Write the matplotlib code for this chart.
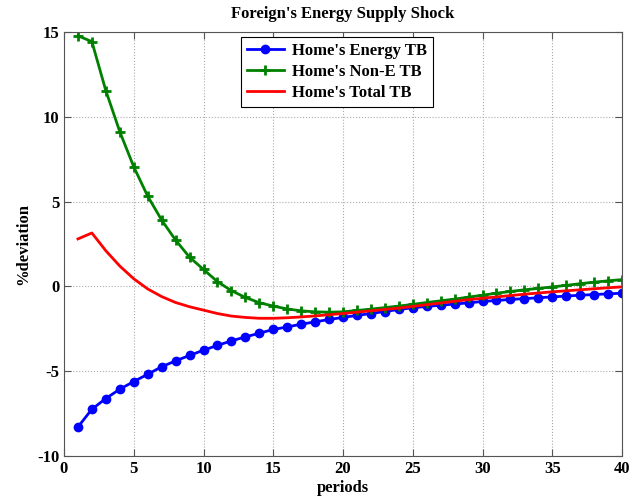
import numpy as np
import matplotlib
matplotlib.use("Agg")
import matplotlib.pyplot as plt

# impulse responses to a foreign energy supply shock, periods 1..40
periods = np.arange(1, 41)

energy_tb = [-8.29, -7.24, -6.61, -6.06, -5.61, -5.18, -4.74, -4.39, -4.07, -3.76,
             -3.48, -3.21, -2.98, -2.76, -2.54, -2.39, -2.23, -2.09, -1.95, -1.83,
             -1.71, -1.60, -1.48, -1.36, -1.26, -1.18, -1.11, -1.04, -0.97, -0.89,
             -0.83, -0.77, -0.72, -0.67, -0.62, -0.57, -0.52, -0.48, -0.44, -0.40]

non_e_tb = [14.78, 14.43, 11.54, 9.12, 7.05, 5.32, 3.91, 2.73, 1.72, 1.00,
            0.28, -0.25, -0.65, -0.96, -1.16, -1.33, -1.44, -1.50, -1.52, -1.50,
            -1.42, -1.34, -1.25, -1.16, -1.06, -0.95, -0.85, -0.75, -0.63, -0.52,
            -0.40, -0.30, -0.20, -0.12, -0.03, 0.06, 0.16, 0.25, 0.33, 0.40]

total_tb = [2.80, 3.15, 2.10, 1.20, 0.45, -0.15, -0.60, -0.95, -1.20, -1.40,
            -1.60, -1.75, -1.83, -1.88, -1.88, -1.85, -1.80, -1.74, -1.67, -1.60,
            -1.52, -1.44, -1.36, -1.28, -1.18, -1.08, -0.98, -0.88, -0.78, -0.70,
            -0.62, -0.54, -0.46, -0.39, -0.32, -0.26, -0.20, -0.14, -0.08, -0.03]

labels = ["Home's Energy TB", "Home's Non-E TB", "Home's Total TB"]

plt.rcParams["font.family"] = ["Liberation Serif", "DejaVu Serif"]
plt.rcParams["font.weight"] = "bold"
plt.rcParams["font.size"] = 12
plt.rcParams["axes.unicode_minus"] = False

fig = plt.figure(figsize=(6.33, 4.99), dpi=100)
ax = fig.add_axes([64 / 633, 1 - 456 / 499, 558 / 633, 424 / 499])

ax.plot(periods, energy_tb, color="blue", lw=2, marker="o", ms=6, label=labels[0])
ax.plot(periods, non_e_tb, color="green", lw=2, marker="+", ms=7, mew=2, label=labels[1])
ax.plot(periods, total_tb, color="red", lw=2, label=labels[2])

ax.set_xlim(0, 40)
ax.set_ylim(-10, 15)
ax.set_xticks(np.arange(0, 41, 5))
ax.set_yticks(np.arange(-10, 16, 5))
ax.grid(True, color="#aaaaaa", linestyle=":", linewidth=0.8)
ax.tick_params(direction="in", top=True, right=True, length=5, color="#555555")
for side in ax.spines.values():
    side.set_color("#555555")
for lbl in ax.get_xticklabels() + ax.get_yticklabels():
    lbl.set_fontweight("bold")

ax.set_title("Foreign's Energy Supply Shock", fontweight="bold", fontsize=12, pad=10)
ax.set_xlabel("periods", fontweight="bold", labelpad=2)
ax.set_ylabel("%deviation", fontweight="bold", labelpad=4)

leg = ax.legend(loc="upper center", bbox_to_anchor=(0.489, 0.988), borderaxespad=0,
                fancybox=False, edgecolor="black", framealpha=1, handlelength=2.2,
                borderpad=0.35, labelspacing=0.3, handletextpad=0.5,
                prop={"weight": "bold", "size": 12})
leg.get_frame().set_linewidth(0.8)

fig.savefig("out.png", dpi=100)
